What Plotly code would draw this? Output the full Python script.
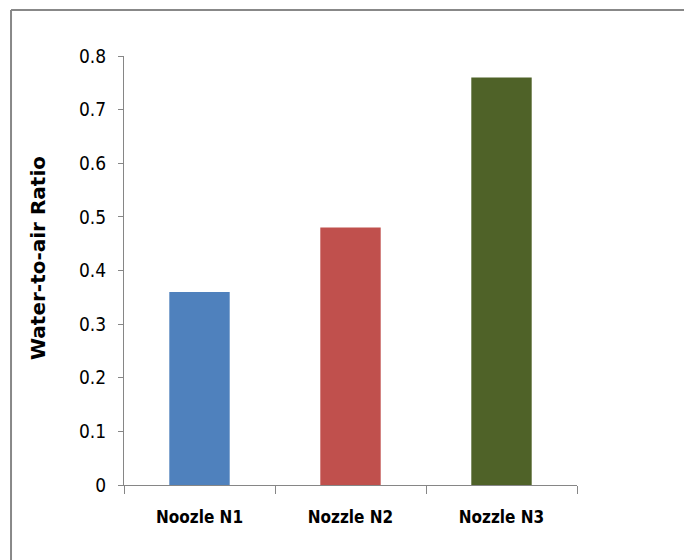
import plotly.graph_objects as go

# Water-to-air ratio for each nozzle
categories = ["Noozle N1", "Nozzle N2", "Nozzle N3"]
ratios = [0.36, 0.48, 0.76]
bar_colors = ["#4F81BD", "#C0504D", "#4F6228"]
y_ticks = [0, 0.1, 0.2, 0.3, 0.4, 0.5, 0.6, 0.7, 0.8]
y_tick_text = ["0", "0.1", "0.2", "0.3", "0.4", "0.5", "0.6", "0.7", "0.8"]
y_title = "Water-to-air Ratio"

narrow = "Liberation Sans Narrow, DejaVu Sans Condensed, Roboto, sans-serif"
axis_grey = "#868686"
frame_grey = "#888888"

fig = go.Figure(
    go.Bar(
        x=categories,
        y=ratios,
        marker=dict(color=bar_colors, line=dict(width=0)),
        showlegend=False,
        hoverinfo="x+y",
    )
)

fig.update_layout(
    width=684,
    height=560,
    margin=dict(l=124, r=107, t=56, b=75),
    paper_bgcolor="white",
    plot_bgcolor="white",
    bargap=0.6,
    font=dict(family=narrow, color="#000000"),
    xaxis=dict(
        type="category",
        showline=True,
        linecolor=axis_grey,
        linewidth=1,
        ticks="outside",
        tickson="boundaries",
        ticklen=8,
        tickcolor=axis_grey,
        ticklabelstandoff=17,
        tickfont=dict(family=narrow, size=17, color="#000000", weight="bold"),
        showgrid=False,
    ),
    yaxis=dict(
        range=[0, 0.8],
        tickvals=y_ticks,
        ticktext=y_tick_text,
        showline=True,
        linecolor=axis_grey,
        linewidth=1,
        ticks="outside",
        ticklen=5,
        tickcolor=axis_grey,
        ticklabelstandoff=8,
        tickfont=dict(family=narrow, size=19, color="#000000"),
        showgrid=False,
        zeroline=False,
    ),
    annotations=[
        dict(
            text=y_title,
            xref="paper",
            yref="paper",
            x=-0.19,
            y=0.529,
            xanchor="center",
            yanchor="middle",
            textangle=-90,
            showarrow=False,
            font=dict(family="DejaVu Sans, sans-serif", size=20,
                      color="#000000", weight="bold"),
        )
    ],
    shapes=[
        # outer chart frame: top and left edges (the rest runs off the page)
        dict(
            type="line", xref="paper", yref="paper",
            x0=-0.2494, x1=1.3, y0=1.1072, y1=1.1072,
            line=dict(color=frame_grey, width=2), layer="below",
        ),
        dict(
            type="line", xref="paper", yref="paper",
            x0=-0.2494, x1=-0.2494, y0=-0.25, y1=1.1072,
            line=dict(color=frame_grey, width=2), layer="below",
        ),
    ],
)

fig.write_html("out.html")
